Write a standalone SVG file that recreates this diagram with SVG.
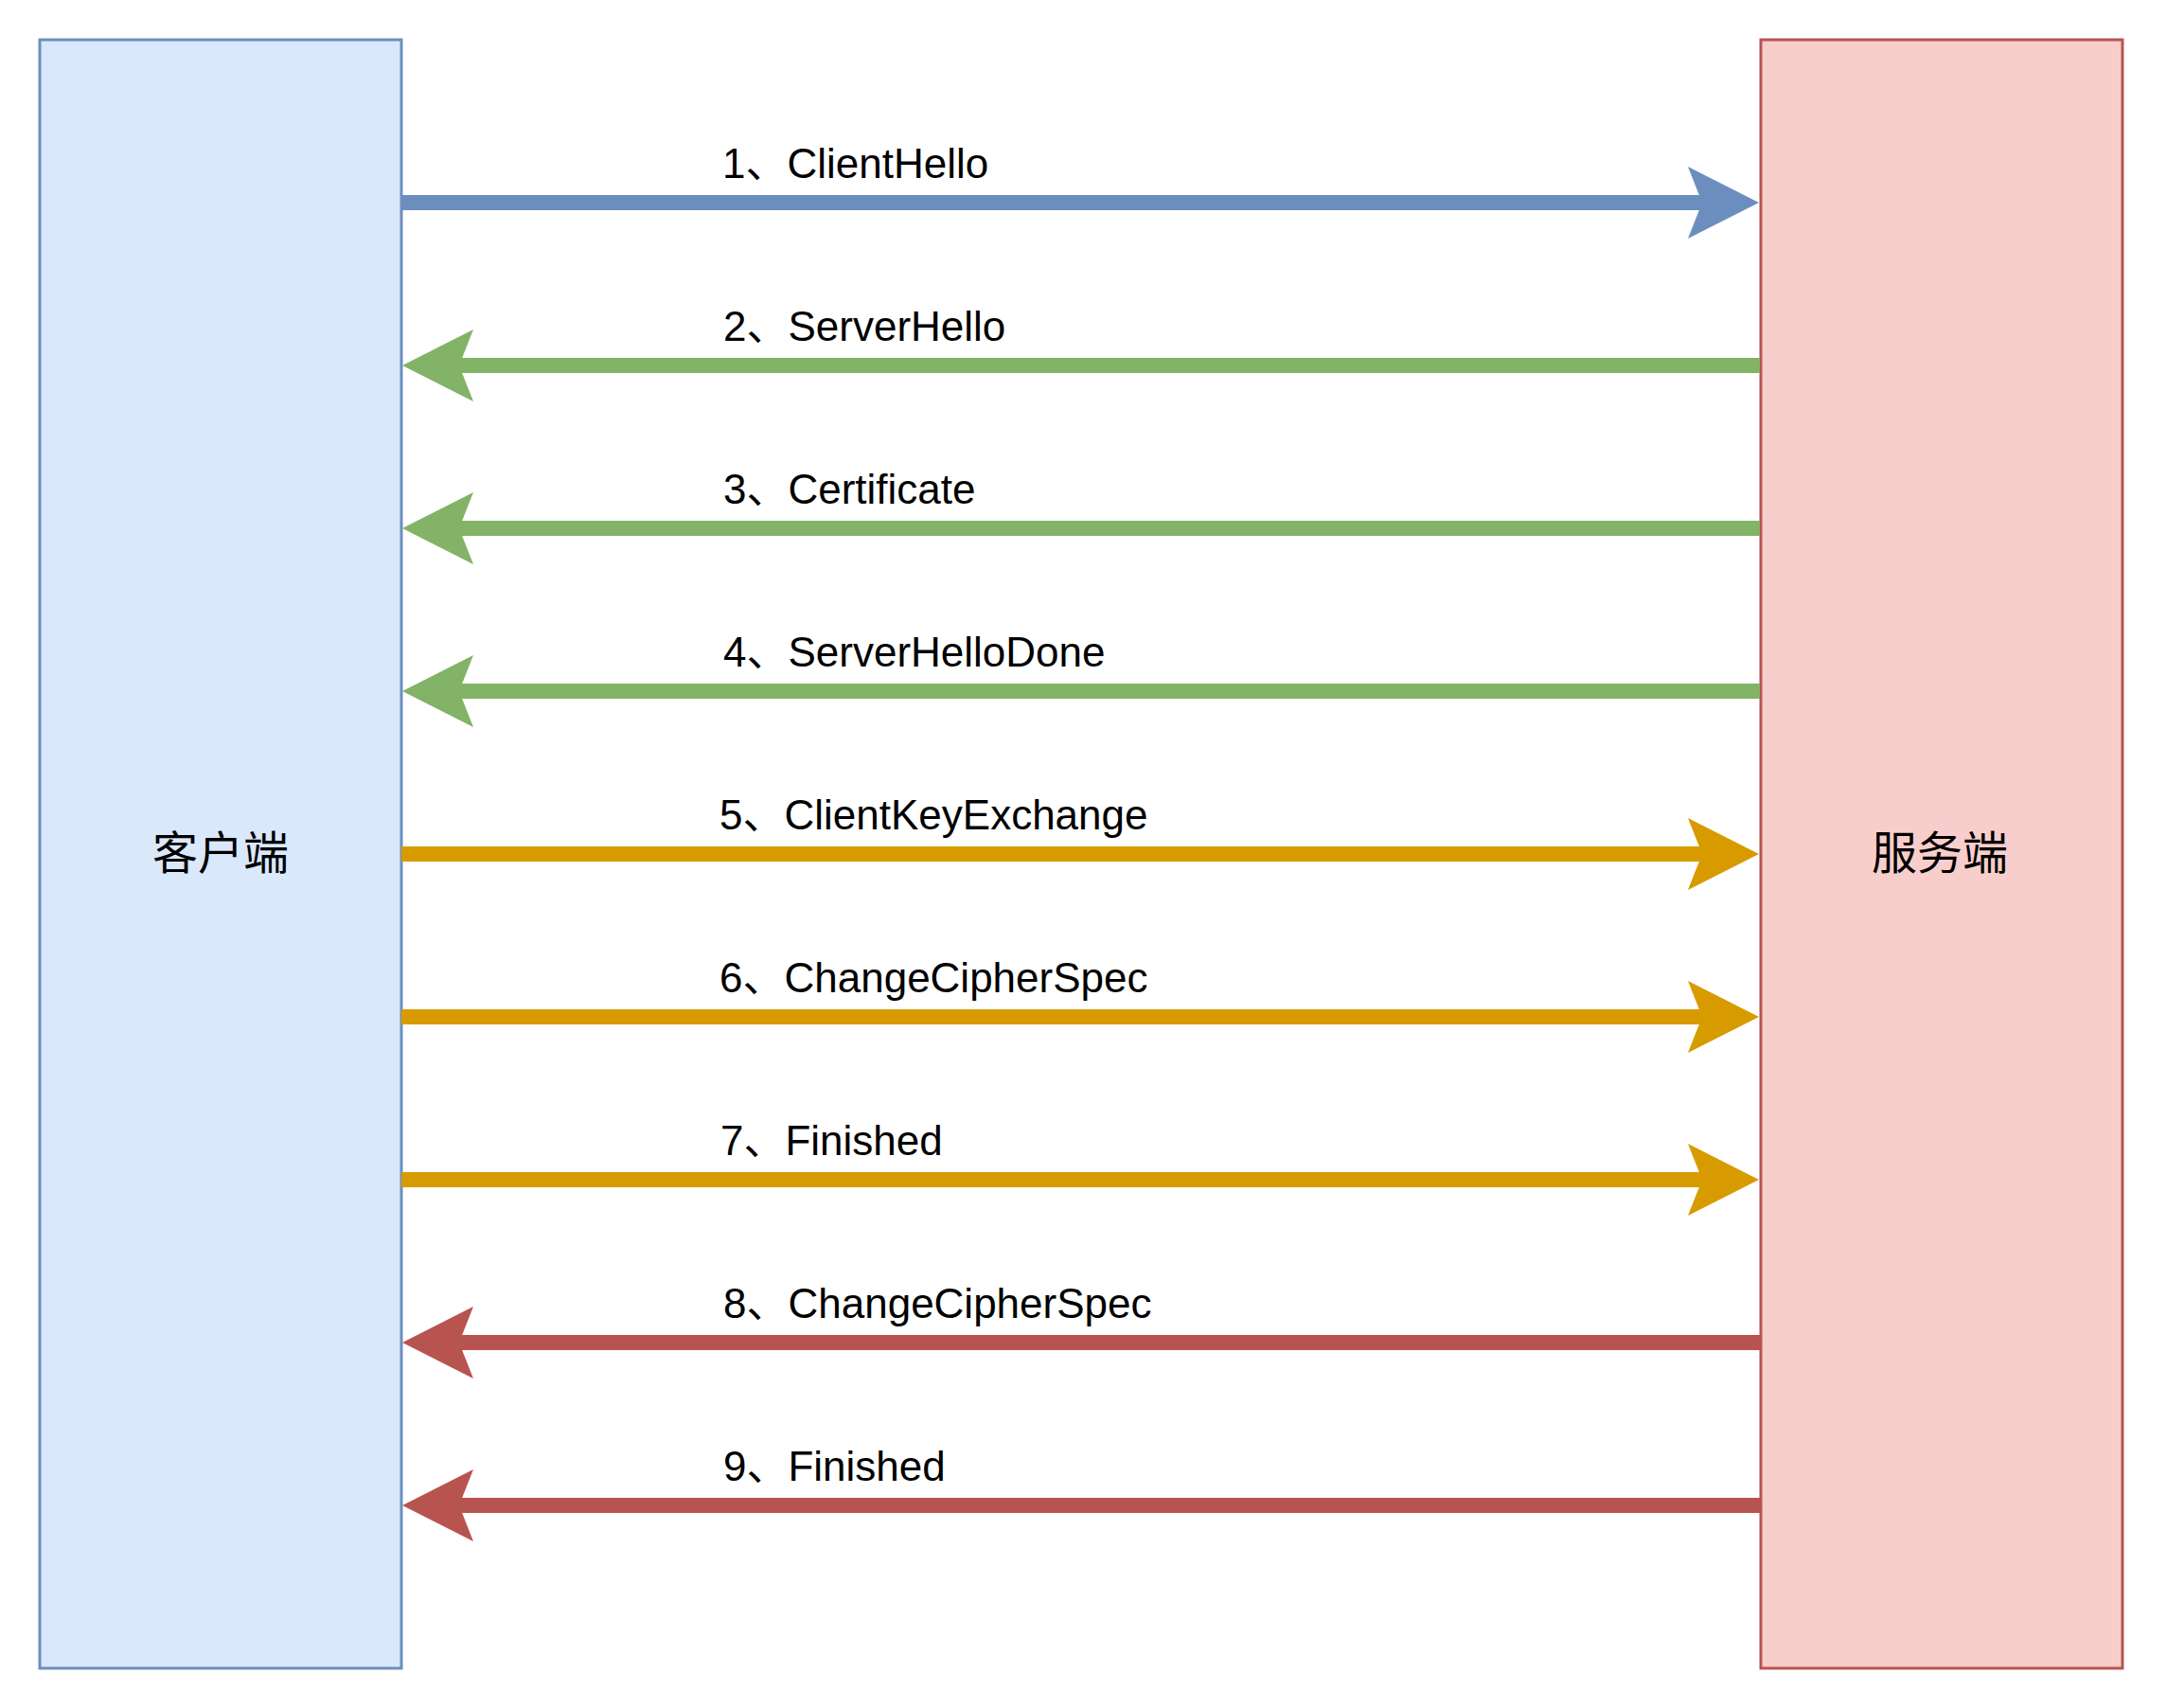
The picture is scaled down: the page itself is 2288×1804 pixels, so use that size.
<svg xmlns="http://www.w3.org/2000/svg" width="2288" height="1804" viewBox="0 0 2288 1804">
<style>
.lbl{font-family:"Liberation Sans","Noto Sans CJK SC",Arial,sans-serif;font-size:44px;fill:#000}
.cjk{font-family:"Noto Sans CJK SC","Liberation Sans",sans-serif;font-size:48px;fill:#000;text-anchor:middle;dominant-baseline:central}
.ln{stroke-width:16;fill:none;stroke-linecap:butt}
.blue{stroke:#6c8ebf;marker-end:url(#ah-blue)}
.green{stroke:#82b366;marker-end:url(#ah-green)}
.orange{stroke:#d79b00;marker-end:url(#ah-orange)}
.red{stroke:#b85450;marker-end:url(#ah-red)}
</style>
<defs>
<marker id="ah-blue" markerUnits="userSpaceOnUse" markerWidth="80" markerHeight="80" viewBox="0 -40 80 80" refX="15" refY="0" orient="auto" overflow="visible"><path d="M0,-38 L75,0 L0,38 L15,0 Z" fill="#6c8ebf"/></marker>
<marker id="ah-green" markerUnits="userSpaceOnUse" markerWidth="80" markerHeight="80" viewBox="0 -40 80 80" refX="15" refY="0" orient="auto" overflow="visible"><path d="M0,-38 L75,0 L0,38 L15,0 Z" fill="#82b366"/></marker>
<marker id="ah-orange" markerUnits="userSpaceOnUse" markerWidth="80" markerHeight="80" viewBox="0 -40 80 80" refX="15" refY="0" orient="auto" overflow="visible"><path d="M0,-38 L75,0 L0,38 L15,0 Z" fill="#d79b00"/></marker>
<marker id="ah-red" markerUnits="userSpaceOnUse" markerWidth="80" markerHeight="80" viewBox="0 -40 80 80" refX="15" refY="0" orient="auto" overflow="visible"><path d="M0,-38 L75,0 L0,38 L15,0 Z" fill="#b85450"/></marker>
</defs>
<rect width="2288" height="1804" fill="#ffffff"/>
<g id="client">
<rect x="42" y="42" width="382" height="1720" fill="#dae8fc" stroke="#6c8ebf" stroke-width="3"/>
<text class="cjk" x="233" y="897">客户端</text>
</g>
<g id="server">
<rect x="1860" y="42" width="382" height="1720" fill="#f8cecc" stroke="#b85450" stroke-width="3"/>
<text class="cjk" x="2049" y="897">服务端</text>
</g>
<g id="connectors">
<line class="ln blue" x1="424" y1="214" x2="1798" y2="214"/>
<line class="ln green" x1="1859" y1="386" x2="485" y2="386"/>
<line class="ln green" x1="1859" y1="558" x2="485" y2="558"/>
<line class="ln green" x1="1859" y1="730" x2="485" y2="730"/>
<line class="ln orange" x1="424" y1="902" x2="1798" y2="902"/>
<line class="ln orange" x1="424" y1="1074" x2="1798" y2="1074"/>
<line class="ln orange" x1="424" y1="1246" x2="1798" y2="1246"/>
<line class="ln red" x1="1859" y1="1418" x2="485" y2="1418"/>
<line class="ln red" x1="1859" y1="1590" x2="485" y2="1590"/>
</g>
<g id="labels">
<text class="lbl" x="763" y="188">1、ClientHello</text>
<text class="lbl" x="764" y="360">2、ServerHello</text>
<text class="lbl" x="764" y="532">3、Certificate</text>
<text class="lbl" x="764" y="704">4、ServerHelloDone</text>
<text class="lbl" x="760" y="876">5、ClientKeyExchange</text>
<text class="lbl" x="760" y="1048">6、ChangeCipherSpec</text>
<text class="lbl" x="761" y="1220">7、Finished</text>
<text class="lbl" x="764" y="1392">8、ChangeCipherSpec</text>
<text class="lbl" x="764" y="1564">9、Finished</text>
</g>
</svg>
